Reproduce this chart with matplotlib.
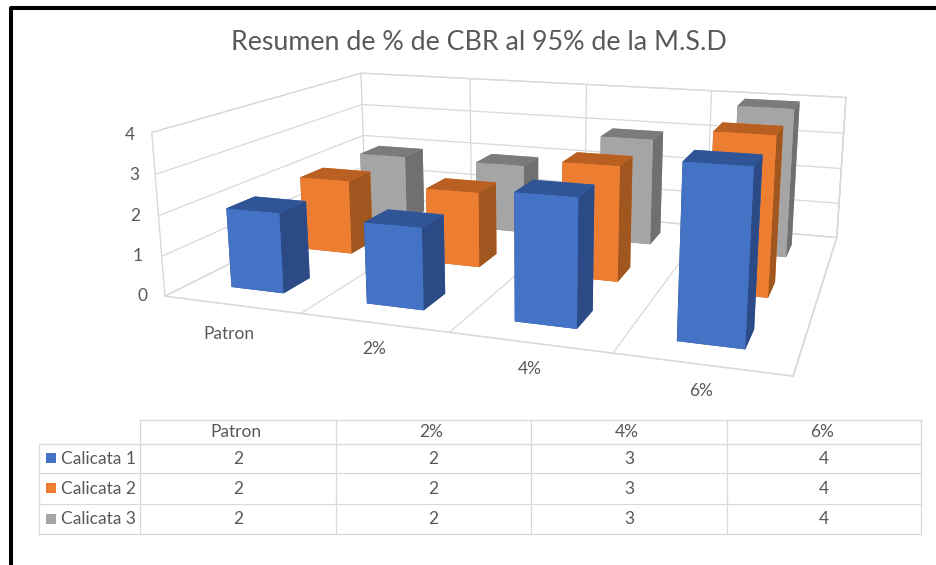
import numpy as np
import matplotlib
matplotlib.use('Agg')
import matplotlib.pyplot as plt

categories = ['Patron', '2%', '4%', '6%']
series_names = ['Calicata 1', 'Calicata 2', 'Calicata 3']
calicata_1 = [2.0, 1.98, 3.0, 3.95]
calicata_2 = [2.0, 1.98, 2.95, 3.95]
calicata_3 = [1.95, 1.95, 2.95, 4.0]
table_rows = [[2, 2, 3, 4], [2, 2, 3, 4], [2, 2, 3, 4]]
z_ticks = [0, 1, 2, 3, 4]
title = 'Resumen de % de CBR al 95% de la M.S.D'

face_colors = ['#4472C4', '#ED7D31', '#A5A5A5']
top_colors = ['#2F5597', '#B85F21', '#7B7B7B']
side_colors = ['#2B4A86', '#A0561F', '#707070']
TXT = '#595959'
GRID = '#D9D9D9'
FONT = 'Lato'

W, H = 937, 565
plt.rcParams['font.family'] = FONT
plt.rcParams['grid.color'] = GRID
plt.rcParams['grid.linewidth'] = 0.9
fig = plt.figure(figsize=(W / 100, H / 100), dpi=100, facecolor='white')

ax = fig.add_axes([0.17911, 0.02586, 0.74853, 1.24137], projection='3d')
ax.patch.set_alpha(0)
ax.set_xlim(0, 4, view_margin=0)
ax.set_ylim(0, 3, view_margin=0)
ax.set_zlim(0, 4, view_margin=0)
ax.view_init(elev=13.7689, azim=-70.7382, roll=0.055)
ax.set_proj_type('persp', focal_length=0.3025)
ax.set_box_aspect((1, 0.7068, 0.2698))

ax.set_xticks([0, 1, 2, 3, 4])
ax.set_yticks([])
ax.set_zticks(z_ticks)
ax.set_xticklabels([])
ax.set_zticklabels([])
for axis in (ax.xaxis, ax.yaxis, ax.zaxis):
    axis.set_pane_color((1, 1, 1, 1))
    axis.pane.set_edgecolor(GRID)
    axis.pane.set_linewidth(0.9)
    axis.line.set_color(GRID)
    axis.line.set_linewidth(1.0)
    axis._axinfo['tick']['inward_factor'] = 0
    axis._axinfo['tick']['outward_factor'] = 0

# front-left vertical edge of the side wall
ax.plot([0, 0], [0, 0], [0, 4], color=GRID, lw=1.0, clip_on=False)

bar_w = 0.395
bar_d = 0.36
series = [calicata_1, calicata_2, calicata_3]
xs, ys, zs, dxs, dys, dzs, cols = [], [], [], [], [], [], []
for j, vals in enumerate(series):
    for i, v in enumerate(vals):
        xs.append(i + 0.5 - bar_w / 2)
        ys.append(j + 0.5 - bar_d / 2)
        zs.append(0)
        dxs.append(bar_w)
        dys.append(bar_d)
        dzs.append(v)
        cols += [top_colors[j], top_colors[j], face_colors[j], face_colors[j], side_colors[j], side_colors[j]]
ax.bar3d(xs, ys, zs, dxs, dys, dzs, color=cols, shade=False, edgecolor=None, linewidth=0)

ov = fig.add_axes([0, 0, 1, 1], zorder=5)
ov.set_xlim(0, W)
ov.set_ylim(H, 0)
ov.axis('off')
ov.patch.set_alpha(0)

# outer frame
ov.plot([11.5, 11.5, W + 5], [H + 5, 7.5, 7.5], color='black', lw=2.9, solid_joinstyle='round')

ov.text(479, 42.5, title, ha='center', va='center', fontsize=19.3, color=TXT)

z_label_x = [143, 138, 135, 134, 130]
z_label_y = [296, 256, 216, 175, 135]
for t, x, y in zip(z_ticks, z_label_x, z_label_y):
    ov.text(x, y, str(t), ha='center', va='center', fontsize=12.5, color=TXT)

cat_x = [229, 374, 530, 701]
cat_y = [334, 349, 369, 391]
for c, x, y in zip(categories, cat_x, cat_y):
    ov.text(x, y, c, ha='center', va='center', fontsize=12.5, color=TXT)

# data table
col_edges = [140, 336, 531, 727, 921]
row_edges = [420, 444, 473, 504, 534]
for i, x in enumerate(col_edges):
    ov.plot([x, x], [row_edges[0], row_edges[-1]], color=GRID, lw=0.9)
ov.plot([39, 39], [row_edges[1], row_edges[-1]], color=GRID, lw=0.9)
for k, y in enumerate(row_edges):
    ov.plot([140 if k == 0 else 39, 921], [y, y], color=GRID, lw=0.9)
for i, c in enumerate(categories):
    ov.text((col_edges[i] + col_edges[i + 1]) / 2 - 2, 432, c, ha='center', va='center', fontsize=12.5, color=TXT)
for r, (name, row) in enumerate(zip(series_names, table_rows)):
    yc = (row_edges[r + 1] + row_edges[r + 2]) / 2
    ov.add_patch(plt.Rectangle((46, yc - 5.5), 10, 10, color=face_colors[r], lw=0))
    ov.text(61, yc + 0.5, name, ha='left', va='center', fontsize=12.5, color=TXT)
    for i, v in enumerate(row):
        ov.text((col_edges[i] + col_edges[i + 1]) / 2, yc + 0.5, str(v), ha='center', va='center', fontsize=12.5, color=TXT)

fig.savefig('out.png', dpi=100)
